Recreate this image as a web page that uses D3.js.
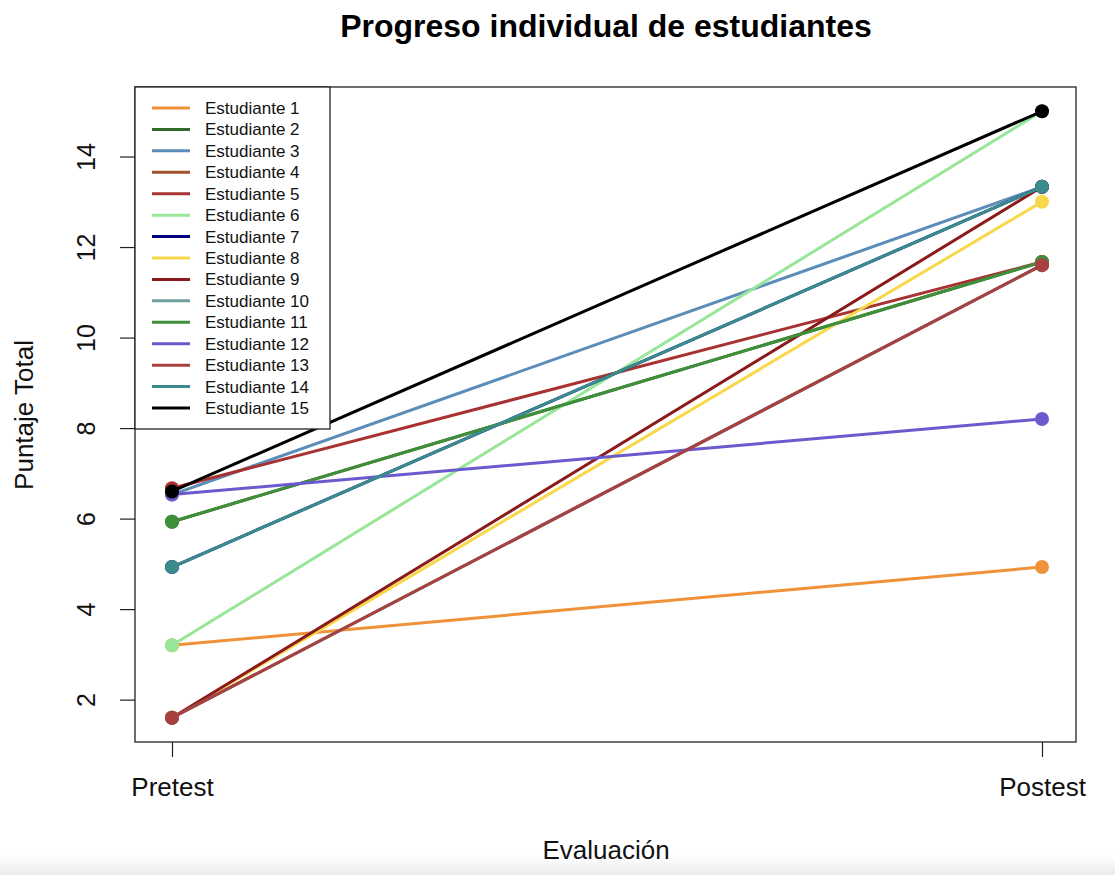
<!DOCTYPE html>
<html>
<head>
<meta charset="utf-8">
<script src="https://cdn.jsdelivr.net/npm/d3@7"></script>
<style>
  body { margin: 0; background: #fff; }
  text { font-family: "Liberation Sans", Arial, sans-serif; }
</style>
</head>
<body>
<svg id="chart" width="1115" height="875"></svg>
<script>
// data
var phases = ["Pretest", "Postest"];
var students = ["Estudiante 1", "Estudiante 2", "Estudiante 3", "Estudiante 4", "Estudiante 5",
                "Estudiante 6", "Estudiante 7", "Estudiante 8", "Estudiante 9", "Estudiante 10",
                "Estudiante 11", "Estudiante 12", "Estudiante 13", "Estudiante 14", "Estudiante 15"];
var pretest  = [3.2, 5.93, 6.53, 1.6, 6.67, 3.2, 4.93, 1.6, 1.6, 1.6, 5.93, 6.53, 1.6, 4.93, 6.6];
var postest  = [4.93, 11.67, 13.33, 11.6, 11.67, 15, 13.33, 13.0, 13.33, 11.6, 11.67, 8.2, 11.6, 13.33, 15];
var colors   = ["#F0923A", "#336B2C", "#5B8DB8", "#A0522D", "#A83232", "#98E698", "#000080", "#F8D84A",
                "#8B1A1A", "#6E9E9E", "#3F8E3A", "#6A5ACD", "#A84040", "#3A8C8C", "#000000"];
var yTicks = [2, 4, 6, 8, 10, 12, 14];

var svg = d3.select("#chart");

var box = {left: 135, right: 1076, top: 87, bottom: 742};

// R style 4% padding on both axes
var x = d3.scalePoint().domain(phases).range([172, 1042]);
var yMin = d3.min(pretest.concat(postest)), yMax = d3.max(pretest.concat(postest));
var pad = (yMax - yMin) * 0.04;
var y = d3.scaleLinear().domain([yMin - pad, yMax + pad]).range([box.bottom, box.top]);

var series = students.map(function(s, i) {
  return {name: s, color: colors[i], values: [pretest[i], postest[i]]};
});

// faint band at the bottom of the screenshot
var grad = svg.append("defs").append("linearGradient")
  .attr("id", "fade").attr("x1", 0).attr("y1", 0).attr("x2", 0).attr("y2", 1);
grad.append("stop").attr("offset", "0%").attr("stop-color", "#fff");
grad.append("stop").attr("offset", "100%").attr("stop-color", "#ececec");
svg.append("rect").attr("x", 0).attr("y", 855).attr("width", 1115).attr("height", 20)
  .attr("fill", "url(#fade)");

var line = d3.line()
  .x(function(d, i) { return x(phases[i]); })
  .y(function(d) { return y(d); });

var g = svg.append("g");

series.forEach(function(s) {
  g.append("path")
    .datum(s.values)
    .attr("d", line)
    .attr("fill", "none")
    .attr("stroke", s.color)
    .attr("stroke-width", 3);
  g.selectAll(null)
    .data(s.values)
    .enter()
    .append("circle")
    .attr("cx", function(d, i) { return x(phases[i]); })
    .attr("cy", function(d) { return y(d); })
    .attr("r", 7)
    .attr("fill", s.color);
});

// plot frame
svg.append("rect")
  .attr("x", box.left).attr("y", box.top)
  .attr("width", box.right - box.left).attr("height", box.bottom - box.top)
  .attr("fill", "none").attr("stroke", "#222").attr("stroke-width", 1.3);

// y axis
var yAxis = d3.axisLeft(y).tickValues(yTicks).tickSize(15).tickPadding(0);
var ya = svg.append("g").attr("transform", "translate(" + box.left + ",0)").call(yAxis);
ya.select(".domain").remove();
ya.selectAll(".tick line").attr("stroke", "#222").attr("stroke-width", 1.2);
ya.selectAll(".tick text")
  .attr("font-size", 25)
  .attr("fill", "#111")
  .attr("text-anchor", "middle")
  .attr("transform", "translate(-49,0) rotate(-90)")
  .attr("x", 0).attr("dy", "0.35em");

// x axis
var xAxis = d3.axisBottom(x).tickSize(15).tickPadding(20);
var xa = svg.append("g").attr("transform", "translate(0," + box.bottom + ")").call(xAxis);
xa.select(".domain").remove();
xa.selectAll(".tick line").attr("stroke", "#222").attr("stroke-width", 1.2);
xa.selectAll(".tick text").attr("font-size", 26).attr("fill", "#111")
  .attr("dy", null).attr("y", 54);

// titles
svg.append("text")
  .attr("x", 606).attr("y", 37)
  .attr("text-anchor", "middle")
  .attr("font-size", 32).attr("font-weight", "bold").attr("fill", "#000")
  .text("Progreso individual de estudiantes");

svg.append("text")
  .attr("x", 606).attr("y", 859)
  .attr("text-anchor", "middle")
  .attr("font-size", 26).attr("fill", "#111")
  .text("Evaluación");

svg.append("text")
  .attr("transform", "translate(33,415) rotate(-90)")
  .attr("text-anchor", "middle")
  .attr("font-size", 26).attr("fill", "#111")
  .text("Puntaje Total");

// legend
var legend = svg.append("g");
legend.append("rect")
  .attr("x", box.left).attr("y", box.top)
  .attr("width", 195).attr("height", 342)
  .attr("fill", "#fff").attr("stroke", "#222").attr("stroke-width", 1.3);

var ly = d3.scaleLinear().domain([0, students.length - 1]).range([108, 408]);
var item = legend.selectAll(".item")
  .data(series)
  .enter()
  .append("g")
  .attr("class", "item")
  .attr("transform", function(d, i) { return "translate(0," + ly(i) + ")"; });
item.append("line")
  .attr("x1", 152).attr("x2", 190)
  .attr("stroke", function(d) { return d.color; })
  .attr("stroke-width", 3);
item.append("text")
  .attr("x", 205).attr("dy", "0.35em")
  .attr("font-size", 17).attr("fill", "#111")
  .text(function(d) { return d.name; });
</script>
</body>
</html>
